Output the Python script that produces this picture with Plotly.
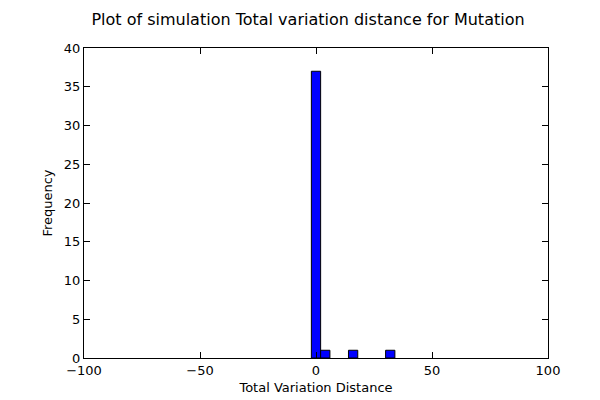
import plotly.graph_objects as go

bin_centers = [0, 4, 16, 32]
counts = [37, 1, 1, 1]
bin_width = 4

fig = go.Figure(go.Bar(
    x=bin_centers, y=counts, width=bin_width,
    marker=dict(color='#0000ff', line=dict(color='black', width=1)),
))

axis_style = dict(
    showline=True, linecolor='black', linewidth=1, mirror='ticks',
    ticks='inside', ticklen=6, tickcolor='black',
    showgrid=False, zeroline=False, automargin=False,
    tickfont=dict(size=13, color='black'),
)

fig.update_layout(
    width=600, height=400,
    margin=dict(l=76, r=60, t=40, b=50, autoexpand=False),
    plot_bgcolor='white', paper_bgcolor='white',
    font=dict(family='DejaVu Sans', color='black'),
    title=dict(text='Plot of simulation Total variation distance for Mutation',
               x=0.5, xanchor='center', y=0.985, yanchor='top', font=dict(size=16)),
    xaxis=dict(axis_style, range=[-100, 100], dtick=50,
               title=dict(text='Total Variation Distance', font=dict(size=13), standoff=6)),
    yaxis=dict(axis_style, range=[0, 40], dtick=5,
               title=dict(text='Frequency', font=dict(size=13), standoff=8)),
    showlegend=False,
)

fig.write_html("out.html")
